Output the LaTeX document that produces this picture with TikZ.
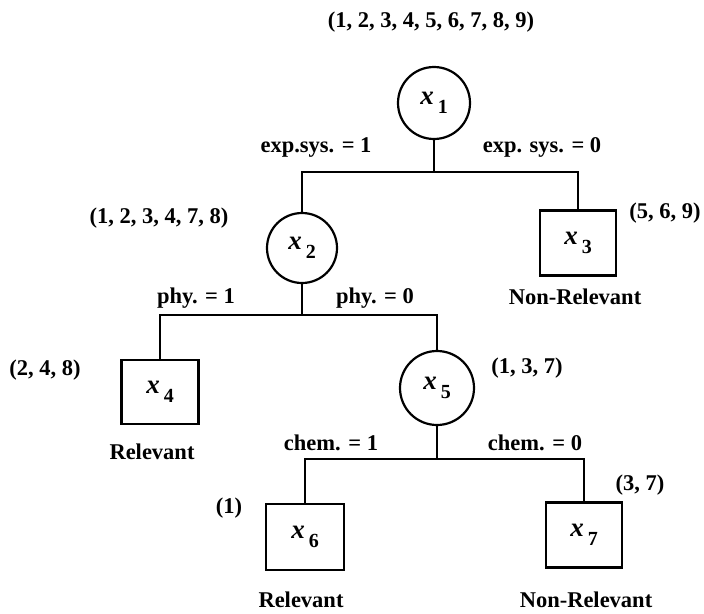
\documentclass[tikz,border=0pt]{standalone}
\usepackage{fontspec}
\setmainfont{Liberation Serif}
\begin{document}
\begin{tikzpicture}[x=1pt,y=-1pt,
  line width=2.2pt,
  every node/.style={font=\fontsize{22.5}{26}\selectfont\bfseries, inner sep=0pt},
  test/.style={circle, draw, minimum size=72pt},
  leaf/.style={rectangle, draw, minimum width=76pt, minimum height=65pt},
  lbl/.style={anchor=center}]
\newcommand{\xv}[1]{{\fontsize{27}{30}\selectfont\textit{x}}\kern4pt\raisebox{-9pt}{\fontsize{20}{24}\selectfont #1}}
\useasboundingbox (0,0) rectangle (704,613);

% tree nodes
\node[test] (x1) at (434,103) {\xv{1}};
\node[test, minimum size=70pt] (x2) at (302,248) {\xv{2}};
\node[leaf] (x3) at (578,243) {\xv{3}};
\node[leaf, minimum width=77pt, minimum height=64pt] (x4) at (160,392) {\xv{4}};
\node[test, minimum size=74pt] (x5) at (437,388) {\xv{5}};
\node[leaf, minimum width=78pt, minimum height=66pt] (x6) at (305,537) {\xv{6}};
\node[leaf] (x7) at (584,535) {\xv{7}};

% branch points
\coordinate (b1) at (434,172);
\coordinate (b2) at (302,315);
\coordinate (b3) at (437,459);

% connectors
\draw (x1) -- (b1);
\draw (x2.north) |- (b1) -| (x3.north);
\draw (x2) -- (b2);
\draw (x4.north) |- (b2) -| (x5.north);
\draw (x5) -- (b3);
\draw (x6.north) |- (b3) -| (x7.north);

% document sets
\node[lbl] (s1) at (431,22) {(1, 2, 3, 4, 5, 6, 7, 8, 9)};
\node[lbl] (s2) at (159,218) {(1, 2, 3, 4, 7, 8)};
\node[lbl] (s3) at (665,213) {(5, 6, 9)};
\node[lbl] (s4) at (45,370) {(2, 4, 8)};
\node[lbl] (s5) at (527,368) {(1, 3, 7)};
\node[lbl] (s6) at (229,508) {(1)};
\node[lbl] (s7) at (640,485) {(3, 7)};

% branch conditions
\node[lbl] (c1) at (316,147) {exp.sys. = 1};
\node[lbl] (c2) at (542,147) {exp. sys. = 0};
\node[lbl] (c3) at (196,298) {phy. = 1};
\node[lbl] (c4) at (375,298) {phy. = 0};
\node[lbl] (c5) at (331,443) {chem. = 1};
\node[lbl] (c6) at (535,443) {chem. = 0};

% class labels
\node[lbl] (r3) at (575,297) {Non-Relevant};
\node[lbl] (r4) at (152,452) {Relevant};
\node[lbl] (r6) at (301,600) {Relevant};
\node[lbl] (r7) at (586,600) {Non-Relevant};
\end{tikzpicture}
\end{document}
